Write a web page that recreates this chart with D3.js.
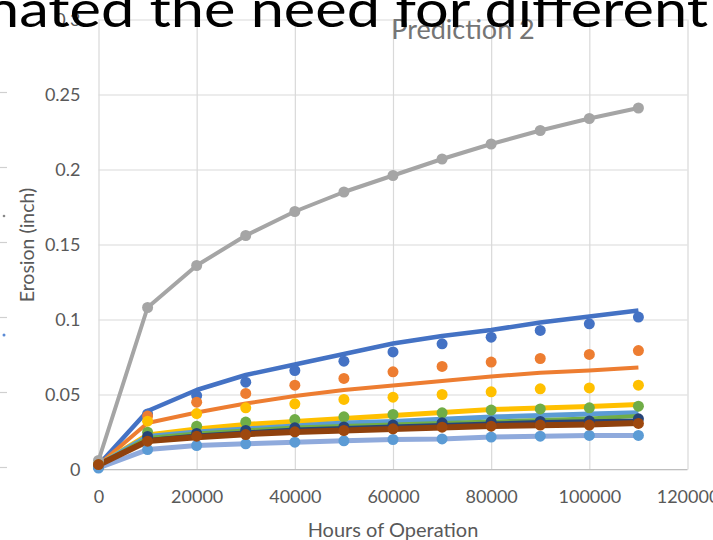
<html>
<head>
<script src="https://d3js.org/d3.v7.min.js"></script>
<style>
body { margin: 0; background: #fff; }
text { font-family: Lato, "Open Sans", sans-serif; }
.grid line { stroke: #d9d9d9; stroke-width: 1.2; }
.grid .domain { display: none; }
.grid text { fill: #595959; font-size: 18px; }
</style>
</head>
<body>
<div id="plot"></div>
<script>

var width = 713;
var height = 540;

// hours of operation
var hours = [0, 10000, 20000, 30000, 40000, 50000, 60000, 70000, 80000, 90000, 100000, 110000];
var xTicks = [0, 20000, 40000, 60000, 80000, 100000, 120000];
var yTicks = [0, 0.05, 0.1, 0.15, 0.2, 0.25, 0.3];

// predicted curves (lines)
var grayLine      = [0.006, 0.108, 0.136, 0.156, 0.172, 0.185, 0.196, 0.207, 0.217, 0.226, 0.234, 0.241];
var blueLine      = [0.003, 0.039, 0.053, 0.063, 0.070, 0.077, 0.084, 0.089, 0.093, 0.098, 0.102, 0.106];
var orangeLine    = [0.003, 0.031, 0.038, 0.044, 0.049, 0.053, 0.056, 0.059, 0.062, 0.0645, 0.066, 0.068];
var yellowLine    = [0.003, 0.023, 0.027, 0.030, 0.032, 0.034, 0.036, 0.038, 0.040, 0.041, 0.042, 0.0433];
var lightBlueLine = [0.003, 0.022, 0.025, 0.027, 0.029, 0.031, 0.032, 0.0335, 0.035, 0.036, 0.037, 0.0378];
var greenLine     = [0.003, 0.021, 0.024, 0.026, 0.028, 0.029, 0.030, 0.031, 0.032, 0.033, 0.034, 0.0356];
var navyLine      = [0.003, 0.020, 0.023, 0.025, 0.027, 0.028, 0.029, 0.030, 0.031, 0.032, 0.0325, 0.033];
var brownLine     = [0.003, 0.019, 0.0215, 0.0235, 0.025, 0.026, 0.027, 0.028, 0.029, 0.0295, 0.030, 0.031];
var paleLine      = [0.001, 0.0133, 0.016, 0.0171, 0.0182, 0.0191, 0.020, 0.0204, 0.0216, 0.0222, 0.0227, 0.0227];

// measured erosion (markers)
var blueDots      = [0.002, 0.037, 0.0493, 0.0582, 0.066, 0.0722, 0.0784, 0.0838, 0.0882, 0.0927, 0.0971, 0.1016];
var orangeDots    = [0.002, 0.0356, 0.0449, 0.0507, 0.0562, 0.0607, 0.0651, 0.0687, 0.0716, 0.074, 0.0767, 0.0793];
var yellowDots    = [0.003, 0.0322, 0.0373, 0.0411, 0.0438, 0.0467, 0.0482, 0.050, 0.0518, 0.0538, 0.0544, 0.0562];
var greenDots     = [0.003, 0.0249, 0.0289, 0.0316, 0.0333, 0.0351, 0.0367, 0.0378, 0.0396, 0.0404, 0.0411, 0.0422];
var navyDots      = [0.002, 0.022, 0.024, 0.026, 0.0278, 0.0284, 0.0296, 0.0311, 0.0318, 0.032, 0.0324, 0.0338];
var lightBlueDots = [0.001, 0.0133, 0.016, 0.0171, 0.0182, 0.0191, 0.020, 0.0204, 0.0216, 0.0222, 0.0227, 0.0227];
var brownDots     = [0.0033, 0.0189, 0.0222, 0.0233, 0.0251, 0.026, 0.0271, 0.0282, 0.0289, 0.0296, 0.0296, 0.0307];

var lines = [
  { values: grayLine, color: "#a5a5a5", w: 4 },
  { values: blueLine, color: "#4472c4", w: 4.5 },
  { values: orangeLine, color: "#ed7d31", w: 4 },
  { values: yellowLine, color: "#ffc000", w: 5 },
  { values: lightBlueLine, color: "#5b9bd5", w: 5 },
  { values: greenLine, color: "#70ad47", w: 4 },
  { values: navyLine, color: "#264478", w: 3 },
  { values: paleLine, color: "#8faadc", w: 5 },
  { values: brownLine, color: "#8f410d", w: 6 }
];

var dots = [
  { values: grayLine, color: "#a5a5a5", r: 5.5 },
  { values: blueDots, color: "#4472c4", r: 5.5 },
  { values: orangeDots, color: "#ed7d31", r: 5.5 },
  { values: yellowDots, color: "#ffc000", r: 5.5 },
  { values: greenDots, color: "#70ad47", r: 5.5 },
  { values: navyDots, color: "#264478", r: 5.5 },
  { values: lightBlueDots, color: "#5b9bd5", r: 5.5 },
  { values: brownDots, color: "#9e480e", r: 5.5 }
];

var svg = d3.select("#plot").append("svg")
.attr("width", width).attr("height", height);

var xScale = d3.scaleLinear().domain([0, 120000]).range([98.5, 687.5]);
var yScale = d3.scaleLinear().domain([0, 0.3]).range([469.5, 19.5]);

// leftover gridline stubs from the chart behind
svg.append("g").selectAll("line").data(yTicks.slice(0, 6)).enter().append("line")
.attr("x1", 0).attr("x2", 7)
.attr("y1", function (d) { return yScale(d) - 2; })
.attr("y2", function (d) { return yScale(d) - 2; })
.style("stroke", "#d0d0d0").style("stroke-width", 1.2);
svg.append("circle").attr("cx", 4).attr("cy", 216).attr("r", 1.3).style("fill", "#888");
svg.append("circle").attr("cx", 4).attr("cy", 335).attr("r", 1.5).style("fill", "#5b8bd5");

var xAxis = d3.axisBottom(xScale).tickValues(xTicks).tickSize(-(yScale(0) - yScale(0.3))).tickPadding(21)
.tickFormat(d3.format("d"));
svg.append("g").attr("class", "grid")
.attr("transform", "translate(0," + yScale(0) + ")").call(xAxis);

var yAxis = d3.axisLeft(yScale).tickValues(yTicks).tickSize(-(xScale(120000) - xScale(0))).tickPadding(18)
.tickFormat(function (d) { return String(+d.toFixed(2)); });
svg.append("g").attr("class", "grid")
.attr("transform", "translate(" + xScale(0) + ",0)").call(yAxis);

// bottom axis line a bit darker
svg.append("line")
.attr("x1", xScale(0)).attr("x2", xScale(120000))
.attr("y1", yScale(0)).attr("y2", yScale(0))
.style("stroke", "#bfbfbf").style("stroke-width", 1.2);

var lineGen = d3.line()
.x(function (d, i) { return xScale(hours[i]); })
.y(function (d) { return yScale(d); });

svg.append("g").selectAll("path").data(lines).enter().append("path")
.attr("d", function (d) { return lineGen(d.values); })
.style("fill", "none")
.style("stroke", function (d) { return d.color; })
.style("stroke-width", function (d) { return d.w; })
.style("stroke-linejoin", "round");

dots.forEach(function (s) {
  svg.append("g").selectAll("circle").data(s.values).enter().append("circle")
  .attr("cx", function (d, i) { return xScale(hours[i]); })
  .attr("cy", function (d) { return yScale(d); })
  .attr("r", s.r)
  .style("fill", s.color);
});

// titles
svg.append("text").attr("x", 463).attr("y", 39)
.attr("text-anchor", "middle")
.style("font-size", "27px").style("fill", "#757575")
.text("Prediction 2");

svg.append("text").attr("x", (xScale(0) + xScale(120000)) / 2).attr("y", 537)
.attr("text-anchor", "middle")
.style("font-size", "20px").style("fill", "#595959")
.text("Hours of Operation");

svg.append("text").attr("transform", "rotate(-90)")
.attr("x", -245).attr("y", 34)
.attr("text-anchor", "middle")
.style("font-size", "19.5px").style("fill", "#595959")
.text("Erosion (inch)");

// slide heading that sits over the chart
svg.append("text").attr("x", -14).attr("y", 27)
.attr("textLength", 722).attr("lengthAdjust", "spacingAndGlyphs")
.style("font-family", "'Century Gothic', 'URW Gothic', Lato, sans-serif")
.style("font-size", "51px").style("fill", "#000")
.text("nated the need for different");

</script>
</body>
</html>
